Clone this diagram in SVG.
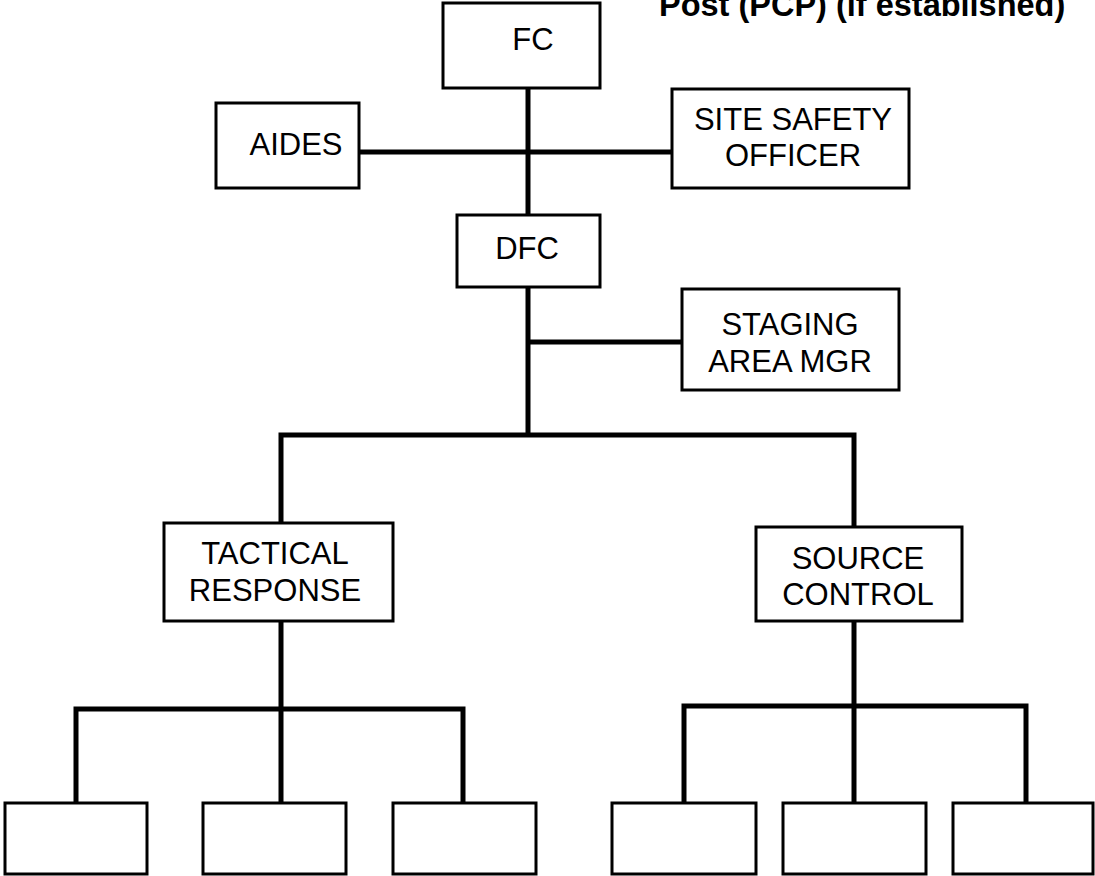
<svg xmlns="http://www.w3.org/2000/svg" width="1095" height="876" viewBox="0 0 1095 876">
<style>
.box{fill:#fff;stroke:#000;stroke-width:3}
.lbl{font-family:"Liberation Sans",Arial,sans-serif;font-size:31px;fill:#000;text-anchor:middle}
.title{font-family:"Liberation Sans",Arial,sans-serif;font-size:32.5px;font-weight:bold;fill:#000}
.con{stroke:#000;stroke-width:5;fill:none}
</style>
<rect width="1095" height="876" fill="#fff"/>
<text class="title" x="659" y="16">Post (PCP)  (if established)</text>
<g id="connectors">
<line class="con" x1="528" y1="88" x2="528" y2="215"/>
<line class="con" x1="359" y1="152" x2="672" y2="152"/>
<line class="con" x1="528" y1="286" x2="528" y2="435"/>
<line class="con" x1="528" y1="342" x2="682" y2="342"/>
<polyline class="con" points="281,523 281,435 854,435 854,527"/>
<line class="con" x1="281" y1="621" x2="281" y2="803"/>
<polyline class="con" points="76,803 76,709 463,709 463,803"/>
<line class="con" x1="854" y1="621" x2="854" y2="803"/>
<polyline class="con" points="684,803 684,706 1026,706 1026,803"/>
</g>
<g id="fc"><rect class="box" x="443" y="3" width="157" height="85"/><text class="lbl" x="533" y="50">FC</text></g>
<g id="aides"><rect class="box" x="216" y="103" width="143" height="85"/><text class="lbl" x="296" y="155">AIDES</text></g>
<g id="site-safety"><rect class="box" x="672" y="89" width="237" height="99"/><text class="lbl" x="793" y="130">SITE SAFETY</text><text class="lbl" x="793" y="166">OFFICER</text></g>
<g id="dfc"><rect class="box" x="457" y="215" width="143" height="72"/><text class="lbl" x="527" y="259">DFC</text></g>
<g id="staging"><rect class="box" x="682" y="289" width="217" height="101"/><text class="lbl" x="790" y="335">STAGING</text><text class="lbl" x="790" y="372">AREA MGR</text></g>
<g id="tactical"><rect class="box" x="164" y="523" width="229" height="98"/><text class="lbl" x="275" y="564">TACTICAL</text><text class="lbl" x="275" y="601">RESPONSE</text></g>
<g id="source"><rect class="box" x="756" y="527" width="206" height="94"/><text class="lbl" x="858" y="569">SOURCE</text><text class="lbl" x="858" y="605">CONTROL</text></g>
<g id="t1"><rect class="box" x="5" y="803" width="142" height="71"/></g>
<g id="t2"><rect class="box" x="203" y="803" width="143" height="71"/></g>
<g id="t3"><rect class="box" x="393" y="803" width="143" height="71"/></g>
<g id="s1"><rect class="box" x="612" y="803" width="144" height="71"/></g>
<g id="s2"><rect class="box" x="783" y="803" width="143" height="71"/></g>
<g id="s3"><rect class="box" x="953" y="803" width="140" height="71"/></g>
</svg>
